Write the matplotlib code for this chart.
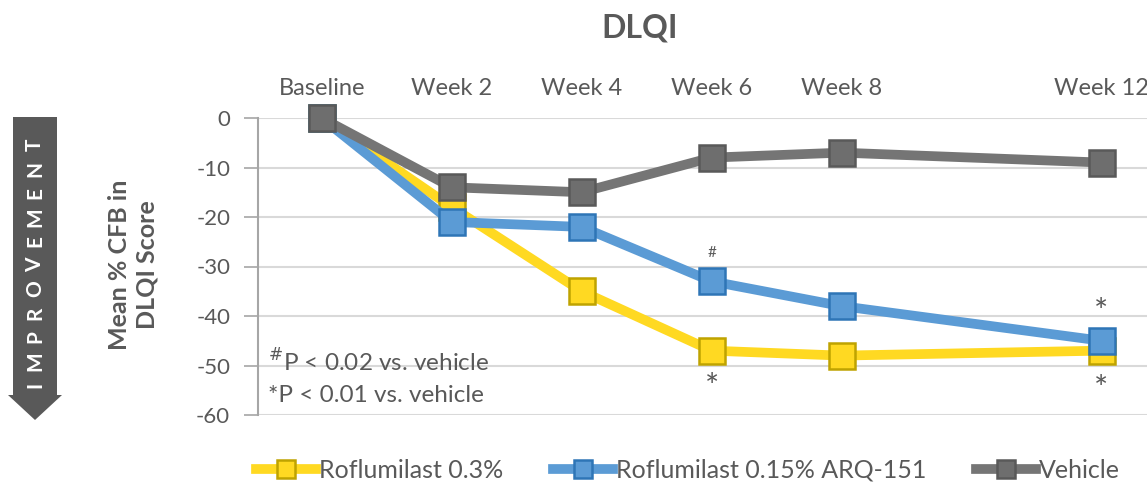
import matplotlib.pyplot as plt
from matplotlib.patches import Polygon

plt.rcParams['font.family'] = ['Lato', 'DejaVu Sans']

# data
weeks = [0, 2, 4, 6, 8, 12]
week_labels = ['Baseline', 'Week 2', 'Week 4', 'Week 6', 'Week 8', 'Week 12']
rof_03 = [0, -18, -35, -47, -48, -47]
rof_015 = [0, -21, -22, -33, -38, -45]
vehicle = [0, -14, -15, -8, -7, -9]
y_ticks = [0, -10, -20, -30, -40, -50, -60]

txt = '#595959'
W, H = 1147, 483

fig = plt.figure(figsize=(W / 100, H / 100), dpi=100)
ax = fig.add_axes([258 / W, 1 - 415 / H, 1 - 258 / W, (415 - 118) / H])

ax.plot(weeks, rof_03, color='#FFD922', lw=7, marker='s', ms=19,
        mfc='#FFD922', mec='#BFA300', mew=1.8, label='Roflumilast 0.3%',
        clip_on=False, zorder=3)
ax.plot(weeks, rof_015, color='#5B9BD5', lw=7, marker='s', ms=19,
        mfc='#5B9BD5', mec='#2E75B6', mew=1.8, label='Roflumilast 0.15% ARQ-151',
        clip_on=False, zorder=4)
ax.plot(weeks, vehicle, color='#757575', lw=7, marker='s', ms=19,
        mfc='#6E6E6E', mec='#595959', mew=1.8, label='Vehicle',
        clip_on=False, zorder=5)

ax.set_xlim(-0.98, 12.7)
ax.set_ylim(-60, 0)
ax.set_yticks(y_ticks)
ax.set_yticklabels([str(v) for v in y_ticks], fontsize=16, color=txt)
ax.yaxis.grid(True, color='#D9D9D9', lw=1.5)
ax.set_axisbelow(True)

ax.xaxis.tick_top()
ax.set_xticks(weeks)
ax.set_xticklabels(week_labels, fontsize=17, color=txt)
ax.tick_params(axis='x', length=0, pad=14)
ax.tick_params(axis='y', length=10, color='#A6A6A6', width=1.2, pad=10)
ax.get_xticklabels()[-1].set_x(11.9)

for s in ['top', 'right', 'bottom']:
    ax.spines[s].set_visible(False)
ax.spines['left'].set_color('#A6A6A6')
ax.spines['left'].set_linewidth(1.5)

fig.text(640 / W, 1 - 28 / H, 'DLQI', fontsize=23, fontweight='bold',
         color=txt, ha='center', va='center')

# significance marks
ax.text(6, -27.3, '#', ha='center', va='center', fontsize=11, color=txt)
ax.text(6, -54.5, '*', ha='center', va='center', fontsize=24, color=txt)
ax.text(12, -39.3, '*', ha='center', va='center', fontsize=24, color=txt)
ax.text(12, -55, '*', ha='center', va='center', fontsize=24, color=txt)

ax.text(268 / W, 1 - 362 / H, r'$^{\#}$P < 0.02 vs. vehicle', transform=fig.transFigure,
        fontsize=17.5, color=txt, va='center')
ax.text(268 / W, 1 - 395 / H, '*P < 0.01 vs. vehicle', transform=fig.transFigure,
        fontsize=17.5, color=txt, va='center')

fig.text(133 / W, 1 - 265 / H, 'Mean % CFB in\nDLQI Score', rotation=90,
         fontsize=18, fontweight='bold', color=txt, ha='center', va='center',
         linespacing=1.25, multialignment='center')

# improvement arrow (pixel coords, top-left origin)
pts = [(13, 117), (57, 117), (57, 395), (62, 395), (35, 420), (8, 395), (13, 395)]
arrow = Polygon([(x / W, 1 - y / H) for x, y in pts], closed=True,
                facecolor='#595959', edgecolor='none', transform=fig.transFigure)
fig.patches.append(arrow)
word = 'IMPROVEMENT'
for i, ch in enumerate(word):
    y = 385 - i * (385 - 145) / (len(word) - 1)
    fig.text(35 / W, 1 - y / H, ch, rotation=90, ha='center', va='center',
             fontsize=15, fontweight='bold', color='white')

fig.legend(loc='center', bbox_to_anchor=(688 / W, 1 - 470 / H), ncol=3, frameon=False,
           fontsize=18, labelcolor=txt, handlelength=2.4, columnspacing=2.0,
           handletextpad=0.1, markerscale=0.7)

fig.savefig('out.png', dpi=100)
